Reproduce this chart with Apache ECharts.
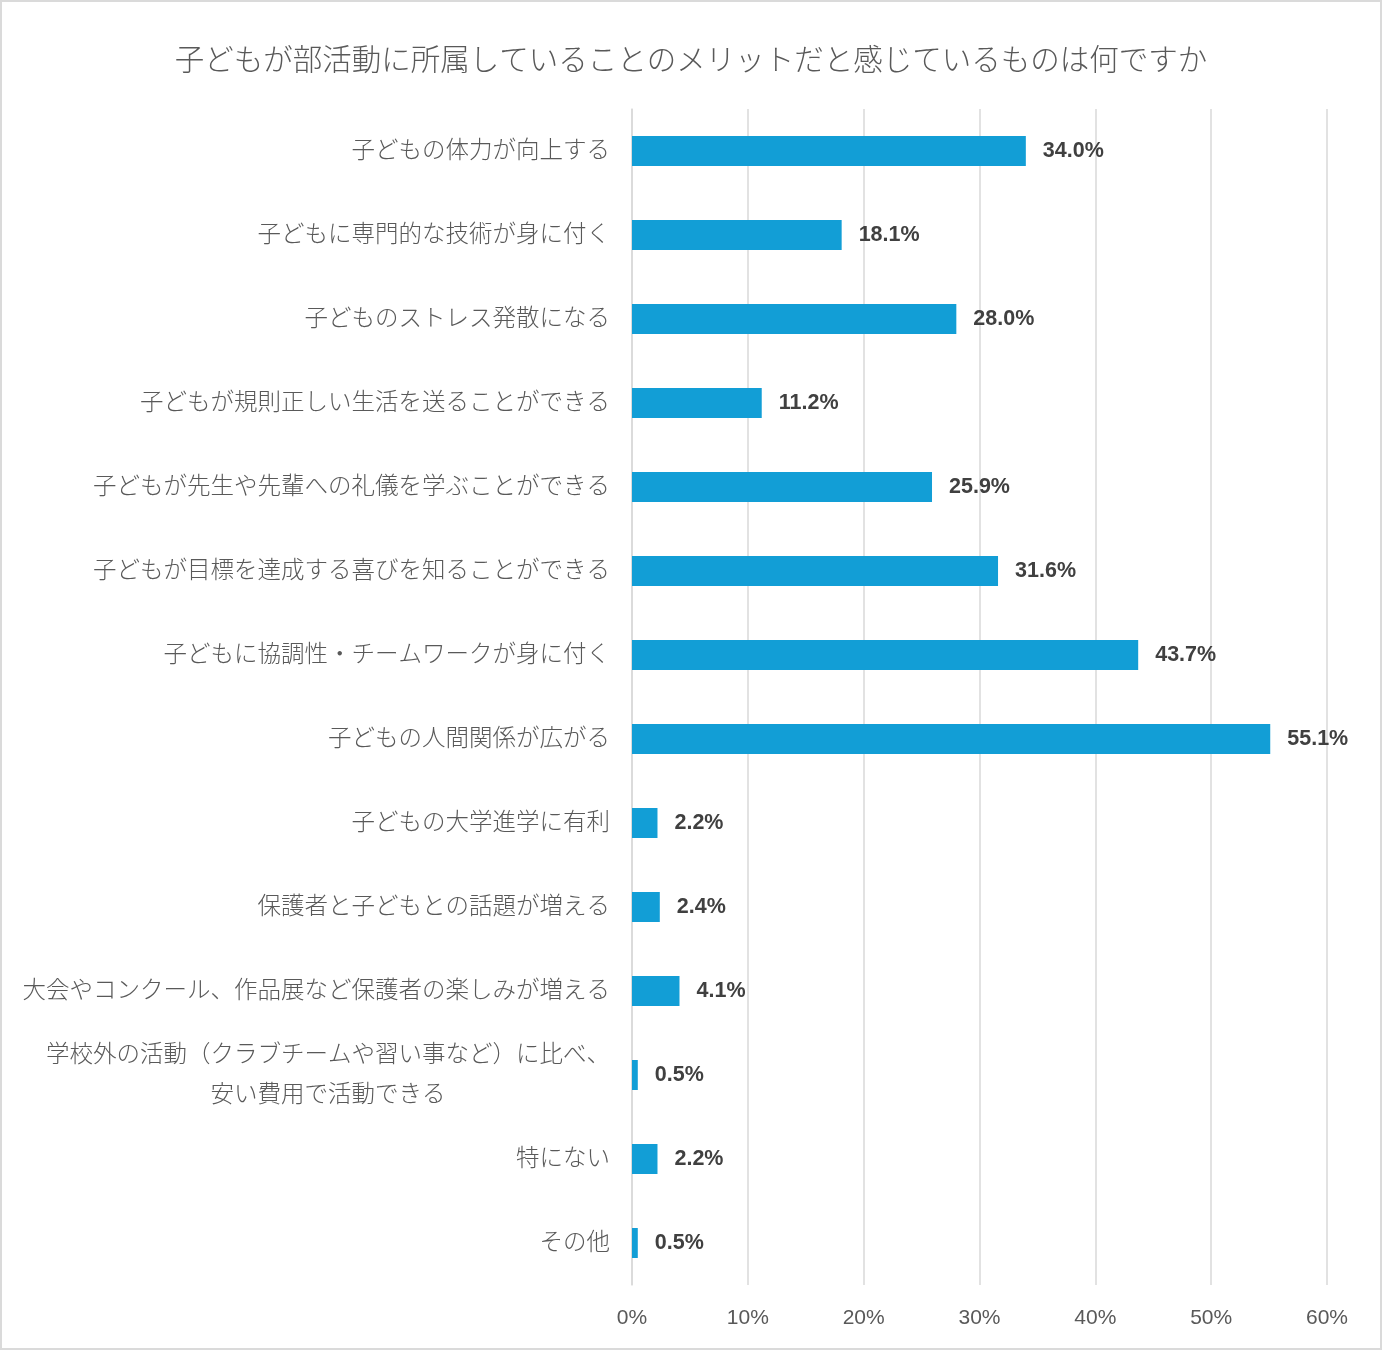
<!DOCTYPE html>
<html>
<head>
<meta charset="utf-8">
<title>部活動のメリット</title>
<script src="https://cdn.jsdelivr.net/npm/echarts@6/dist/echarts.min.js"></script>
<style>
    html, body { margin: 0; padding: 0; background: #fff; }
    #chart { width: 1382px; height: 1350px; box-sizing: border-box; border: 2px solid #dadada; }
</style>
</head>
<body>
<div id="chart"></div>
<script>
    var titleText = "子どもが部活動に所属していることのメリットだと感じているものは何ですか";

    // 上から順に
    var categories = [
        "子どもの体力が向上する",
        "子どもに専門的な技術が身に付く",
        "子どものストレス発散になる",
        "子どもが規則正しい生活を送ることができる",
        "子どもが先生や先輩への礼儀を学ぶことができる",
        "子どもが目標を達成する喜びを知ることができる",
        "子どもに協調性・チームワークが身に付く",
        "子どもの人間関係が広がる",
        "子どもの大学進学に有利",
        "保護者と子どもとの話題が増える",
        "大会やコンクール、作品展など保護者の楽しみが増える",
        "学校外の活動（クラブチームや習い事など）に比べ、\n安い費用で活動できる",
        "特にない",
        "その他"
    ];

    var values = [34.0, 18.1, 28.0, 11.2, 25.9, 31.6, 43.7, 55.1, 2.2, 2.4, 4.1, 0.5, 2.2, 0.5];

    var axisMax = 60;
    var axisStep = 10;

    var textGrey = '#595959';
    var barColor = '#129ed6';
    var jpFont = '"Noto Sans CJK JP", "Noto Sans", sans-serif';
    var numFont = '"Liberation Sans Narrow", "Liberation Sans", Arial, sans-serif';

    var dom = document.getElementById("chart");
    var myChart = echarts.init(dom, null, { renderer: 'canvas' });

    var option = {
        animation: false,
        backgroundColor: '#fff',
        title: {
            text: titleText,
            left: 'center',
            top: 37,
            textStyle: {
                color: textGrey,
                fontSize: 29.5,
                fontWeight: 300,
                fontFamily: jpFont
            }
        },
        grid: {
            left: 630,
            right: 53,
            top: 107,
            bottom: 63,
            containLabel: false
        },
        xAxis: {
            type: 'value',
            min: 0,
            max: axisMax,
            interval: axisStep,
            axisLine: { show: false },
            axisTick: { show: false },
            splitLine: { lineStyle: { color: '#d9d9d9', width: 1.5 } },
            axisLabel: {
                margin: 23,
                color: textGrey,
                fontSize: 21,
                fontFamily: numFont,
                formatter: function(v) { return v + '%'; }
            }
        },
        yAxis: {
            type: 'category',
            inverse: true,
            data: categories,
            axisLine: { show: true, lineStyle: { color: '#d9d9d9', width: 1.5 } },
            axisTick: { show: false },
            axisLabel: {
                margin: 22,
                color: textGrey,
                fontSize: 23.5,
                fontWeight: 300,
                fontFamily: jpFont,
                padding: [0, 0, 3, 0],
                formatter: function(v) {
                    //複数行のラベルは中央揃え
                    return v.split('\n').map(function(s) { return '{c|' + s + '}'; }).join('\n');
                },
                rich: {
                    c: {
                        align: 'center',
                        color: textGrey,
                        fontSize: 23.5,
                        fontWeight: 300,
                        fontFamily: jpFont,
                        lineHeight: 40
                    }
                }
            }
        },
        series: [{
            type: 'bar',
            data: values,
            barWidth: 30,
            itemStyle: { color: barColor },
            label: {
                show: true,
                position: 'right',
                distance: 17,
                color: '#404040',
                fontSize: 21.5,
                fontWeight: 'bold',
                fontFamily: numFont,
                formatter: function(p) { return p.value.toFixed(1) + '%'; }
            }
        }]
    };

    myChart.setOption(option, true);
</script>
</body>
</html>
